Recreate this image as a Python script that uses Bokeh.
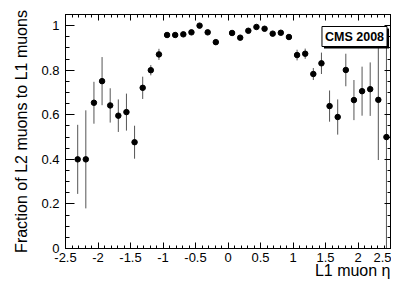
import math
from bokeh.plotting import figure
from bokeh.models import ColumnDataSource, FixedTicker, LinearAxis, Label, Title
from bokeh.embed import file_html
from bokeh.resources import INLINE

# ---- data ----
eta = [-2.3125, -2.1875, -2.0625, -1.9375, -1.8125, -1.6875, -1.5625, -1.4375,
       -1.3125, -1.1875, -1.0625, -0.9375, -0.8125, -0.6875, -0.5625, -0.4375,
       -0.3125, -0.1875, 0.0625, 0.1875, 0.3125, 0.4375, 0.5625, 0.6875,
       0.8125, 0.9375, 1.0625, 1.1875, 1.3125, 1.4375, 1.5625, 1.6875,
       1.8125, 1.9375, 2.0625, 2.1875, 2.3125, 2.4375]
frac = [0.400, 0.400, 0.654, 0.751, 0.642, 0.596, 0.612, 0.477,
        0.721, 0.800, 0.871, 0.958, 0.958, 0.961, 0.970, 1.000,
        0.970, 0.926, 0.967, 0.946, 0.977, 0.994, 0.986, 0.964,
        0.968, 0.949, 0.868, 0.874, 0.783, 0.831, 0.639, 0.590,
        0.801, 0.666, 0.706, 0.715, 0.667, 0.500]
err = [0.155, 0.220, 0.094, 0.108, 0.077, 0.073, 0.083, 0.074,
       0.050, 0.023, 0.025, 0.008, 0.008, 0.008, 0.008, 0.006,
       0.008, 0.010, 0.008, 0.008, 0.007, 0.006, 0.007, 0.008,
       0.008, 0.010, 0.024, 0.023, 0.027, 0.048, 0.070, 0.079,
       0.073, 0.090, 0.110, 0.120, 0.270, 0.500]

x_ticks = [-2.5, -2.0, -1.5, -1.0, -0.5, 0.0, 0.5, 1.0, 1.5, 2.0, 2.5]
x_tick_labels = ["-2.5", "-2", "-1.5", "-1", "-0.5", "0", "0.5", "1", "1.5", "2", "2.5"]
y_ticks = [0.0, 0.2, 0.4, 0.6, 0.8, 1.0]
y_tick_labels = ["0", "0.2", "0.4", "0.6", "0.8", "1"]

x_title = "L1 muon \u03b7"
y_title = "Fraction of L2 muons to L1 muons"
badge = "CMS 2008"

FONT = "Liberation Sans"

src = ColumnDataSource(dict(
    x=eta, y=frac,
    lo=[v - e for v, e in zip(frac, err)],
    hi=[v + e for v, e in zip(frac, err)],
))

p = figure(width=391, height=286, x_range=(-2.5, 2.5), y_range=(0, 1.05),
           output_backend="svg", toolbar_location=None,
           min_border_left=65, min_border_right=1, min_border_top=14, min_border_bottom=38)
p.xgrid.visible = False
p.ygrid.visible = False
p.outline_line_color = "black"
p.outline_line_width = 1
p.background_fill_color = "white"
p.border_fill_color = "white"

x_minor = [round(-2.5 + 0.1 * i, 2) for i in range(51)]
y_minor = [round(0.05 * i, 2) for i in range(22)]


def style(ax, major_in, minor_in, labels):
    ax.axis_line_color = "black"
    ax.major_tick_line_color = "black"
    ax.minor_tick_line_color = "black"
    ax.major_tick_in = major_in
    ax.major_tick_out = 0
    ax.minor_tick_in = minor_in
    ax.minor_tick_out = 0
    if labels:
        ax.major_label_text_font = FONT
        ax.major_label_text_font_size = "13px"
        ax.major_label_text_color = "black"
        ax.axis_label_text_font = FONT
        ax.axis_label_text_font_size = "16px"
        ax.axis_label_text_font_style = "normal"
        ax.axis_label_text_color = "black"
    else:
        ax.major_label_text_font_size = "0px"
        ax.major_label_standoff = 0


xa = p.xaxis[0]
xa.ticker = FixedTicker(ticks=x_ticks, minor_ticks=x_minor)
xa.major_label_overrides = dict(zip(x_ticks, x_tick_labels))
xa.major_label_standoff = 4
style(xa, 6, 3, True)

ya = p.yaxis[0]
ya.ticker = FixedTicker(ticks=y_ticks, minor_ticks=y_minor)
ya.major_label_overrides = dict(zip(y_ticks, y_tick_labels))
ya.major_label_standoff = 6
style(ya, 9, 4, True)
ya.axis_label = y_title
ya.axis_label_standoff = 8

top = LinearAxis(ticker=FixedTicker(ticks=x_ticks, minor_ticks=x_minor))
style(top, 6, 3, False)
p.add_layout(top, "above")
right = LinearAxis(ticker=FixedTicker(ticks=y_ticks, minor_ticks=y_minor))
style(right, 6, 3, False)
p.add_layout(right, "right")

xt_title = Title(text=x_title, align="right", text_font=FONT, text_font_size="16px",
                 text_font_style="normal", text_color="black")
try:
    xt_title.standoff = -10
except Exception:
    xt_title.standoff = 0
p.add_layout(xt_title, "below")

p.segment(x0="x", y0="lo", x1="x", y1="hi", source=src, line_color="#555555", line_width=1)
p.scatter(x="x", y="y", source=src, size=5.5, color="black")

# badge with shadow
p.add_layout(Label(x=291, y=210, x_units="screen", y_units="screen", text=badge,
                   text_align="center", text_baseline="middle",
                   text_font=FONT, text_font_size="12.5px", text_font_style="bold",
                   text_color="black", background_fill_color="black", padding=3))
p.add_layout(Label(x=289, y=212, x_units="screen", y_units="screen", text=badge,
                   text_align="center", text_baseline="middle",
                   text_font=FONT, text_font_size="12.5px", text_font_style="bold",
                   text_color="black", background_fill_color="white",
                   border_line_color="black", border_line_width=1, padding=3))

open("out.html", "w").write(file_html(p, INLINE))
